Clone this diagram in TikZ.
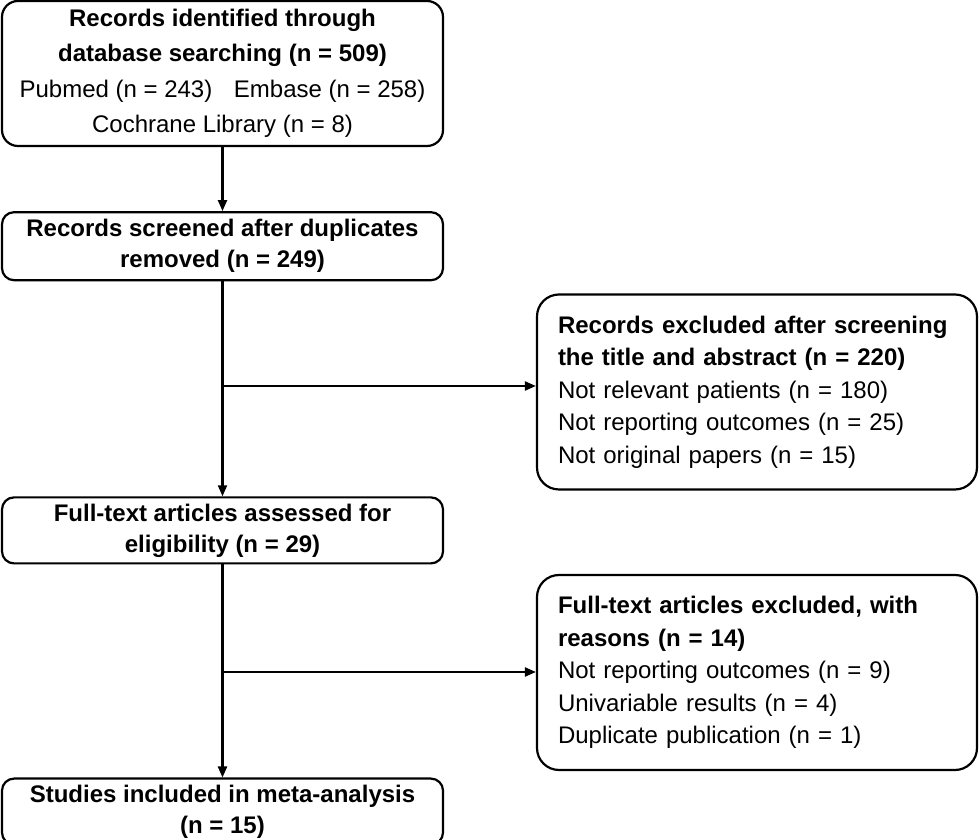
\documentclass[tikz,border=0pt]{standalone}
\usepackage{fontspec}
\setmainfont{Liberation Sans}
\usetikzlibrary{arrows.meta,positioning}

\begin{document}
\begin{tikzpicture}[
    x=1pt, y=1pt,
    box/.style={draw=black, line width=2.2pt, rounded corners=12pt, align=center, minimum width=441pt, inner sep=0pt, font=\fontsize{24pt}{31pt}\selectfont},
    side/.style={draw=black, line width=2.2pt, rounded corners=22pt, align=left, text width=398pt, inner xsep=21pt, inner ysep=0pt, minimum height=195pt, font=\fontsize{24pt}{32.5pt}\selectfont},
    arr/.style={-{Triangle[length=11pt, width=9pt]}, line width=2.2pt}
  ]
    \useasboundingbox (0,0) rectangle (980,840);
    \node[box, minimum height=145pt, rounded corners=16pt, font=\fontsize{24pt}{35.5pt}\selectfont] (ident) at (222.5,766.5) {\textbf{Records identified through}\\\textbf{database searching (n = 509)}\\Pubmed (n = 243)\hspace{0.9em}Embase (n = 258)\\Cochrane Library (n = 8)};
    \node[box, below=64pt of ident, minimum height=68pt] (screen) {\textbf{Records screened after duplicates}\\\textbf{removed (n = 249)}};
    \node[box, below=215pt of screen, minimum height=66pt] (full) {\textbf{Full-text articles assessed for}\\\textbf{eligibility (n = 29)}};
    \node[box, below=213pt of full, minimum height=66pt] (incl) {\textbf{Studies included in meta-analysis}\\\textbf{(n = 15)}};
    \node[side] (excl) at (757,448) {\textbf{Records excluded after screening the title and abstract (n = 220)}\\Not relevant patients (n = 180)\\Not reporting outcomes (n = 25)\\Not original papers (n = 15)};
    \node[side] (exclfull) at (757,167.5) {\textbf{Full-text articles excluded, with reasons (n = 14)}\\Not reporting outcomes (n = 9)\\Univariable results (n = 4)\\Duplicate publication (n = 1)};
    \coordinate (split1) at (222.5,454);
    \coordinate (split2) at (222.5,168);
    \draw[arr] (ident) -- (screen);
    \draw[arr] (screen) -- (full);
    \draw[arr] (full) -- (incl);
    \draw[arr] (split1) -- (split1 -| excl.west);
    \draw[arr] (split2) -- (split2 -| exclfull.west);
  \end{tikzpicture}
\end{document}
